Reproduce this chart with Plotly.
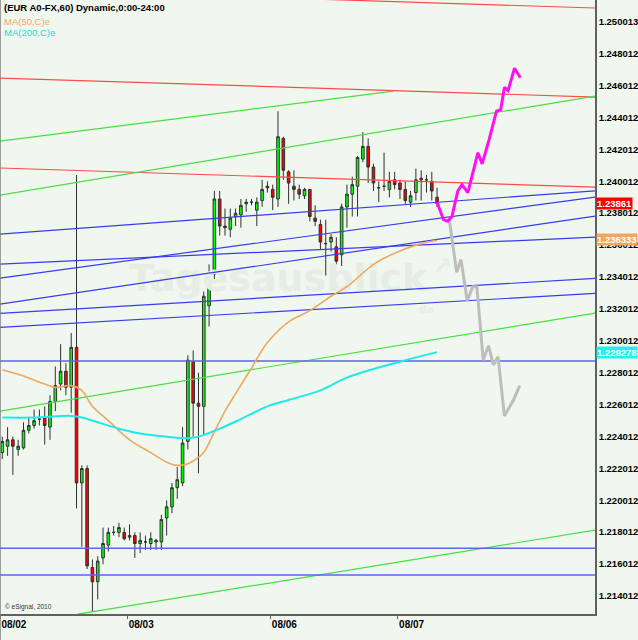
import plotly.graph_objects as go


# =================================================
# DATA — EUR/USD hourly candles (bar 0 = 08/02 00:00)
# =================================================
OPEN = [
    1.2230, 1.2234, 1.2238, 1.2232, 1.2233, 1.2244, 1.2247, 1.2251, 1.2252, 1.2246,
    1.2262, 1.2273, 1.2281, 1.2271, 1.2296, 1.2211, 1.2220, 1.2158, 1.2149, 1.2164,
    1.2172, 1.2180, 1.2180, 1.2180, 1.2177, 1.2178, 1.2173, 1.2174, 1.2173, 1.2174,
    1.2174, 1.2189, 1.2196, 1.2208, 1.2211, 1.2237, 1.2287, 1.2261, 1.2259, 1.2322,
    1.2342, 1.2389, 1.2372, 1.2370, 1.2378, 1.2379, 1.2386, 1.2387, 1.2382, 1.2388,
    1.2397, 1.2395, 1.2389, 1.2427, 1.2406, 1.2397, 1.2395, 1.2391, 1.2395, 1.2377,
    1.2373, 1.2361, 1.2362, 1.2359, 1.2354, 1.2384, 1.2392, 1.2397, 1.2414, 1.2422,
    1.2409, 1.2396, 1.2397, 1.2395, 1.2401, 1.2399, 1.2395, 1.2387, 1.2393, 1.2401,
    1.2401, 1.2400, 1.2390,
]
HIGH = [
    1.2240, 1.2246, 1.2240, 1.2238, 1.2249, 1.2252, 1.2257, 1.2257, 1.2259, 1.2266,
    1.2284, 1.2298, 1.2286, 1.2305, 1.2404, 1.2222, 1.2222, 1.2163, 1.2165, 1.2183,
    1.2183, 1.2184, 1.2186, 1.2183, 1.2185, 1.2180, 1.2180, 1.2178, 1.2180, 1.2176,
    1.2191, 1.2200, 1.2211, 1.2221, 1.2246, 1.2291, 1.2294, 1.2280, 1.2331, 1.2348,
    1.2394, 1.2394, 1.2383, 1.2383, 1.2383, 1.2389, 1.2389, 1.2389, 1.2390, 1.2401,
    1.2400, 1.2398, 1.2444, 1.2428, 1.2407, 1.2407, 1.2398, 1.2396, 1.2395, 1.2385,
    1.2376, 1.2376, 1.2367, 1.2365, 1.2386, 1.2398, 1.2403, 1.2416, 1.2431, 1.2427,
    1.2411, 1.2400, 1.2418, 1.2406, 1.2406, 1.2401, 1.2400, 1.2394, 1.2408, 1.2407,
    1.2404, 1.2406, 1.2396,
]
LOW = [
    1.2226, 1.2228, 1.2216, 1.2228, 1.2232, 1.2242, 1.2245, 1.2247, 1.2235, 1.2238,
    1.2256, 1.2269, 1.2266, 1.2255, 1.2195, 1.2171, 1.2157, 1.2130, 1.2138, 1.2160,
    1.2168, 1.2178, 1.2177, 1.2175, 1.2175, 1.2164, 1.2167, 1.2169, 1.2169, 1.2169,
    1.2169, 1.2178, 1.2192, 1.2201, 1.2209, 1.2232, 1.2240, 1.2217, 1.2241, 1.2309,
    1.2338, 1.2366, 1.2366, 1.2365, 1.2372, 1.2371, 1.2381, 1.2385, 1.2372, 1.2384,
    1.2393, 1.2382, 1.2384, 1.2401, 1.2386, 1.2388, 1.2389, 1.2389, 1.2375, 1.2372,
    1.2357, 1.2341, 1.2356, 1.2348, 1.2347, 1.2371, 1.2378, 1.2378, 1.2412, 1.2399,
    1.2394, 1.2387, 1.2394, 1.2390, 1.2395, 1.2389, 1.2386, 1.2384, 1.2388, 1.2388,
    1.2393, 1.2388, 1.2384,
]
CLOSE = [
    1.2237, 1.2238, 1.2234, 1.2234, 1.2244, 1.2247, 1.2250, 1.2251, 1.2247, 1.2262,
    1.2272, 1.2281, 1.2271, 1.2296, 1.2211, 1.2220, 1.2159, 1.2149, 1.2162, 1.2173,
    1.2180, 1.2180, 1.2183, 1.2176, 1.2178, 1.2173, 1.2175, 1.2174, 1.2176, 1.2175,
    1.2188, 1.2196, 1.2208, 1.2213, 1.2236, 1.2288, 1.2261, 1.2259, 1.2328, 1.2341,
    1.2389, 1.2372, 1.2371, 1.2377, 1.2380, 1.2385, 1.2387, 1.2387, 1.2387, 1.2395,
    1.2396, 1.2390, 1.2428, 1.2407, 1.2399, 1.2395, 1.2392, 1.2395, 1.2378, 1.2375,
    1.2362, 1.2361, 1.2365, 1.2350, 1.2384, 1.2392, 1.2398, 1.2415, 1.2422, 1.2409,
    1.2399, 1.2396, 1.2397, 1.2400, 1.2398, 1.2395, 1.2388, 1.2391, 1.2401, 1.2402,
    1.2401, 1.2394, 1.2386,
]
BARS = list(range(len(OPEN)))

DATE_LABELS = ["08/02", "08/03", "08/06", "08/07"]
DATE_FIRST_BAR = [0, 24, 51, 75]

PRICE_TICK_LABELS = [
    "1.214012", "1.216012", "1.218012", "1.220012", "1.222012", "1.224012",
    "1.226012", "1.228012", "1.230012", "1.232012", "1.234012", "1.236012",
    "1.238012", "1.240012", "1.242012", "1.244012", "1.246012", "1.248012",
    "1.250013",
]

# ---- moving averages (read at a few bars) ----
MA50_BARS = [0, 4, 8, 10, 13, 15, 17, 20, 24, 28, 31, 33, 35, 37, 38, 40, 42,
             44, 47, 50, 54, 58, 62, 65, 70, 74, 79, 82]
MA50_VALUES = [1.2282, 1.2278, 1.2273, 1.2271, 1.2272, 1.2269, 1.2259, 1.2250,
               1.2238, 1.2230, 1.2224, 1.2222, 1.2223, 1.2227, 1.2230, 1.2243,
               1.2256, 1.2267, 1.2283, 1.2299, 1.2312, 1.2319, 1.2328, 1.2334,
               1.2348, 1.2355, 1.2361, 1.2363]
MA200_BARS = [0, 6, 13, 15, 18, 22, 26, 31, 35, 37, 41, 45, 50, 54, 60, 65, 75, 82]
MA200_VALUES = [1.2252, 1.2252, 1.2253, 1.2252, 1.2249, 1.2245, 1.2242, 1.2240,
                1.2239, 1.2240, 1.2245, 1.2251, 1.2259, 1.2263, 1.2269, 1.2277,
                1.2287, 1.2293]

LAST_PRICE = 1.23861
LAST_MA50 = 1.236333
LAST_MA200 = 1.229278

# ---- drawn trend lines: (start bar, start price, end bar, end price) ----
RED_LINES = [
    (-0.43, 1.25206, 111.78, 1.25087),
    (-0.43, 1.24648, 111.78, 1.24529),
    (-0.43, 1.24084, 111.78, 1.23964),
]
GREEN_LINES = [
    (-0.43, 1.24253, 73.8, 1.24566),
    (-0.43, 1.23914, 111.78, 1.24535),
    (-0.43, 1.22560, 111.78, 1.23175),
    (14.2, 1.21287, 111.78, 1.21814),
]
BLUE_LINES = [
    (-0.43, 1.23670, 111.78, 1.23941),
    (-0.43, 1.23394, 111.78, 1.23902),
    (-0.43, 1.23231, 111.78, 1.23783),
    (-0.43, 1.23482, 111.78, 1.23651),
    (-0.43, 1.23173, 111.78, 1.23392),
    (-0.43, 1.23085, 111.78, 1.23298),
]
BLUE_LEVELS = [1.22874, 1.21701, 1.21532]

# ---- hand-drawn scenarios ----
UP_PATH_BARS = [82, 83.2, 84.0, 84.8, 85.9, 86.7, 87.8, 89.7, 90.5, 91.8,
                93.2, 94.0, 94.7, 95.4, 96.6, 97.7]
UP_PATH_PRICES = [1.2387, 1.2376, 1.2375, 1.2378, 1.2394, 1.2398, 1.2393, 1.2418,
                  1.2411, 1.2426, 1.2444, 1.2445, 1.2459, 1.2457, 1.2471, 1.2465]
DOWN_PATH_BARS = [84.3, 85.7, 86.5, 87.7, 88.7, 89.5, 90.7, 91.7, 92.6, 93.5,
                  94.7, 96.4, 97.6]
DOWN_PATH_PRICES = [1.2376, 1.2343, 1.2351, 1.2325, 1.2334, 1.2334, 1.2288,
                    1.2297, 1.2285, 1.2290, 1.2253, 1.2263, 1.2272]

X_RANGE = [-0.43, 111.78]
Y_RANGE = [1.212882, 1.251373]

BG = "#f0f7ef"
FONT = "Liberation Sans"
MARK = "#e5ede4"

fig = go.Figure()

# ---- watermark (behind everything) ----
fig.add_trace(
    go.Scatter(
        x=[52.0, 83.0, 80.0], y=[1.2337, 1.2346, 1.2319], mode="text",
        text=["<b>Tagesausblick</b>", "<b>↗</b>", "<b>de</b>"],
        textfont=dict(family="DejaVu Sans", size=[38, 24, 10], color=MARK),
        hoverinfo="skip",
    )
)

# ---- trend lines ----
for lines, color in ((RED_LINES, "#ff4a4a"), (GREEN_LINES, "#44e044"),
                     (BLUE_LINES, "#3a3aee")):
    for x0, p0, x1, p1 in lines:
        fig.add_trace(
            go.Scatter(x=[x0, x1], y=[p0, p1], mode="lines",
                       line=dict(color=color, width=1.2), hoverinfo="skip")
        )

for level in BLUE_LEVELS:
    fig.add_trace(
        go.Scatter(x=X_RANGE, y=[level, level], mode="lines",
                   line=dict(color="#5c64f0", width=1.5), hoverinfo="skip")
    )

# ---- moving averages ----
fig.add_trace(
    go.Scatter(x=MA50_BARS, y=MA50_VALUES, mode="lines",
               line=dict(color="#f0a860", width=1.6, shape="spline"), name="MA50")
)
fig.add_trace(
    go.Scatter(x=MA200_BARS, y=MA200_VALUES, mode="lines",
               line=dict(color="#22e8e8", width=2, shape="spline"), name="MA200")
)

# ---- candles ----
fig.add_trace(
    go.Candlestick(
        x=BARS, open=OPEN, high=HIGH, low=LOW, close=CLOSE,
        increasing=dict(fillcolor="#00ff00", line=dict(color="#303030", width=1)),
        decreasing=dict(fillcolor="#ff0000", line=dict(color="#303030", width=1)),
        whiskerwidth=0,
        name="EUR A0-FX",
    )
)

# ---- scenarios ----
fig.add_trace(
    go.Scatter(x=DOWN_PATH_BARS, y=DOWN_PATH_PRICES, mode="lines",
               line=dict(color="#bdbdbd", width=3), hoverinfo="skip")
)
fig.add_trace(
    go.Scatter(x=UP_PATH_BARS, y=UP_PATH_PRICES, mode="lines",
               line=dict(color="#ff10f0", width=3), hoverinfo="skip")
)

# ---- value boxes on the price axis ----
for value, bg, txt in ((LAST_PRICE, "#ff0000", f"{LAST_PRICE:.5f}"),
                       (LAST_MA50, "#f0a860", f"{LAST_MA50:.6f}"),
                       (LAST_MA200, "#22f0f0", f"{LAST_MA200:.6f}")):
    fig.add_annotation(
        xref="paper", x=1, xanchor="left", yref="y", y=value, yanchor="middle",
        text=f"<b>{txt}</b>", showarrow=False, bgcolor=bg, borderpad=0,
        font=dict(family=FONT, size=9.5, color="white"), xshift=1,
    )

# ---- header texts ----
fig.add_annotation(
    xref="paper", yref="paper", x=0.003, y=1.0, xanchor="left", yanchor="top",
    text="<b>(EUR A0-FX,60) Dynamic,0:00-24:00</b>", showarrow=False,
    font=dict(family=FONT, size=9.5, color="black"),
)
fig.add_annotation(
    xref="paper", yref="paper", x=0.003, y=0.978, xanchor="left", yanchor="top",
    text="MA(50,C)e", showarrow=False,
    font=dict(family=FONT, size=9.5, color="#f0a860"),
)
fig.add_annotation(
    xref="paper", yref="paper", x=0.003, y=0.96, xanchor="left", yanchor="top",
    text="MA(200,C)e", showarrow=False,
    font=dict(family=FONT, size=9.5, color="#10e0e0"),
)
fig.add_annotation(
    xref="paper", yref="paper", x=0.005, y=0.012, xanchor="left", yanchor="middle",
    text="© eSignal, 2010", showarrow=False,
    font=dict(family=FONT, size=6.5, color="#333"),
)

# ---- left frame line ----
fig.add_shape(type="line", xref="paper", yref="paper", x0=0, x1=0, y0=-0.05, y1=1,
              line=dict(color="#808080", width=1.5))

fig.update_layout(
    width=638,
    height=640,
    margin=dict(l=0, r=41, t=0, b=26),
    paper_bgcolor=BG,
    plot_bgcolor=BG,
    showlegend=False,
    xaxis=dict(
        range=X_RANGE,
        rangeslider=dict(visible=False),
        showgrid=False,
        zeroline=False,
        showline=True,
        linecolor="#606060",
        linewidth=1.5,
        ticks="outside",
        ticklen=3,
        tickcolor="#606060",
        tickvals=[b - 0.4 for b in DATE_FIRST_BAR],
        ticktext=[f"<b>{d}</b>" for d in DATE_LABELS],
        ticklabelposition="outside right",
        tickfont=dict(family=FONT, size=10, color="black"),
    ),
    yaxis=dict(
        range=Y_RANGE,
        side="right",
        showgrid=False,
        zeroline=False,
        showline=True,
        linecolor="#606060",
        linewidth=1.5,
        ticks="",
        tickvals=[float(t) for t in PRICE_TICK_LABELS],
        ticktext=[f"<b>{t}</b>" for t in PRICE_TICK_LABELS],
        tickfont=dict(family=FONT, size=9.5, color="black"),
    ),
)

# page body margin off so the chart sits at the window's top-left corner
fig.write_html(
    "out.html",
    config={"displayModeBar": False},
    post_script="document.body.style.margin='0';",
)
